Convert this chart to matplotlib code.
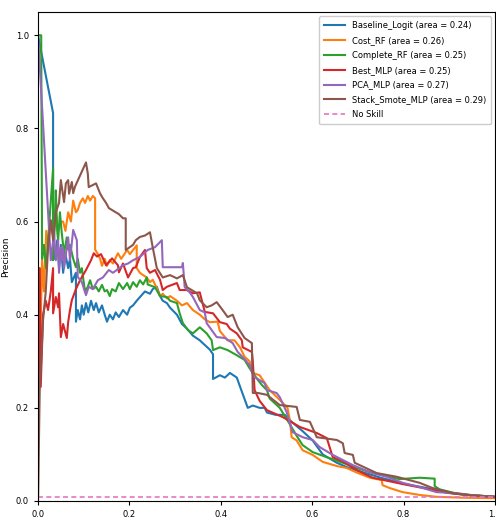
import matplotlib
matplotlib.use("Agg")
import matplotlib.pyplot as plt

labels = ["Baseline_Logit", "Cost_RF", "Complete_RF", "Best_MLP", "PCA_MLP", "Stack_Smote_MLP"]
areas = [0.24, 0.26, 0.25, 0.25, 0.27, 0.29]
colors = ["#1f77b4", "#ff7f0e", "#2ca02c", "#d62728", "#9467bd", "#8c564b"]
no_skill = 0.008

logit_pts = [(0,1.0),(0.033,0.833),(0.033,0.56),(0.037,0.52),(0.042,0.56),(0.046,0.50),(0.050,0.55),(0.055,0.49),
    (0.060,0.53),(0.066,0.50),(0.070,0.52),(0.074,0.47),(0.083,0.49),(0.083,0.385),(0.087,0.41),(0.092,0.39),
    (0.096,0.42),(0.100,0.40),(0.105,0.425),(0.110,0.405),(0.116,0.43),(0.122,0.41),(0.127,0.425),(0.133,0.405),
    (0.140,0.42),(0.146,0.40),(0.151,0.385),(0.157,0.40),(0.164,0.39),(0.170,0.405),(0.177,0.395),(0.186,0.41),
    (0.195,0.40),(0.201,0.415),(0.208,0.42),(0.216,0.43),(0.225,0.44),(0.234,0.45),(0.245,0.445),(0.251,0.455),
    (0.260,0.46),(0.267,0.44),(0.273,0.43),(0.282,0.425),(0.289,0.415),(0.304,0.40),(0.315,0.38),(0.326,0.37),
    (0.339,0.355),(0.354,0.345),(0.365,0.335),(0.376,0.325),(0.383,0.315),(0.383,0.262),(0.398,0.27),(0.409,0.265),
    (0.420,0.275),(0.435,0.265),(0.446,0.235),(0.459,0.20),(0.470,0.205),(0.485,0.20),(0.496,0.20),(0.501,0.19),
    (0.520,0.185),(0.540,0.185),(0.555,0.17),(0.579,0.15),(0.601,0.13),(0.623,0.10),(0.654,0.082),(0.675,0.073),
    (0.710,0.062),(0.750,0.05),(0.800,0.037),(0.850,0.028),(0.880,0.02),(0.920,0.015),(0.950,0.012),(1.0,0.009)]

cost_rf_pts = [(0.004,0.30),(0.009,0.52),(0.013,0.45),(0.018,0.58),(0.022,0.55),(0.028,0.60),(0.033,0.57),(0.039,0.62),
    (0.044,0.58),(0.050,0.60),(0.055,0.60),(0.060,0.58),(0.066,0.62),(0.072,0.60),(0.077,0.645),(0.083,0.62),
    (0.087,0.625),(0.092,0.64),(0.098,0.65),(0.103,0.64),(0.109,0.655),(0.114,0.645),(0.120,0.655),(0.125,0.65),
    (0.125,0.54),(0.131,0.53),(0.136,0.52),(0.140,0.505),(0.146,0.52),(0.151,0.505),(0.157,0.517),(0.164,0.51),
    (0.175,0.532),(0.182,0.52),(0.195,0.539),(0.201,0.53),(0.216,0.549),(0.216,0.50),(0.223,0.49),(0.230,0.485),
    (0.238,0.48),(0.245,0.47),(0.251,0.475),(0.260,0.457),(0.267,0.44),(0.273,0.445),(0.282,0.435),(0.289,0.44),
    (0.304,0.43),(0.315,0.42),(0.326,0.425),(0.339,0.41),(0.354,0.40),(0.365,0.39),(0.376,0.384),(0.393,0.385),
    (0.398,0.365),(0.415,0.345),(0.430,0.345),(0.442,0.33),(0.452,0.31),(0.463,0.30),(0.470,0.275),(0.485,0.27),
    (0.507,0.238),(0.529,0.217),(0.546,0.20),(0.551,0.174),(0.555,0.137),(0.566,0.13),(0.579,0.109),(0.601,0.099),
    (0.623,0.084),(0.654,0.075),(0.675,0.071),(0.700,0.06),(0.726,0.05),(0.752,0.045),(0.754,0.034),(0.769,0.028),
    (0.798,0.019),(0.835,0.013),(0.872,0.009),(0.93,0.007),(1.0,0.006)]

complete_rf_pts = [(0,1.0),(0.007,1.0),(0.009,0.52),(0.013,0.55),(0.018,0.50),(0.033,0.715),(0.033,0.517),(0.037,0.60),
    (0.039,0.667),(0.042,0.58),(0.044,0.56),(0.048,0.62),(0.052,0.575),(0.057,0.532),(0.063,0.566),(0.066,0.54),
    (0.070,0.55),(0.077,0.52),(0.083,0.502),(0.087,0.52),(0.092,0.49),(0.096,0.50),(0.100,0.47),(0.103,0.45),
    (0.109,0.46),(0.114,0.474),(0.120,0.455),(0.127,0.46),(0.133,0.45),(0.140,0.464),(0.146,0.45),(0.151,0.453),
    (0.157,0.44),(0.162,0.455),(0.170,0.45),(0.177,0.468),(0.186,0.455),(0.195,0.468),(0.201,0.455),(0.208,0.47),
    (0.216,0.46),(0.223,0.474),(0.230,0.465),(0.238,0.48),(0.240,0.465),(0.256,0.459),(0.267,0.44),(0.282,0.438),
    (0.289,0.43),(0.304,0.425),(0.310,0.403),(0.317,0.382),(0.328,0.367),(0.339,0.36),(0.354,0.373),(0.369,0.36),
    (0.380,0.345),(0.383,0.324),(0.398,0.33),(0.415,0.324),(0.435,0.313),(0.452,0.303),(0.463,0.285),(0.481,0.26),
    (0.490,0.249),(0.501,0.238),(0.507,0.22),(0.529,0.20),(0.551,0.165),(0.566,0.14),(0.579,0.12),(0.601,0.105),
    (0.632,0.094),(0.667,0.082),(0.700,0.07),(0.732,0.06),(0.791,0.047),(0.835,0.05),(0.868,0.048),(0.868,0.032),
    (0.879,0.025),(0.92,0.015),(0.96,0.012),(1.0,0.009)]

best_mlp_pts = [(0.0,0.0),(0.002,0.5),(0.004,0.5),(0.006,0.245),(0.011,0.40),(0.017,0.43),(0.022,0.41),(0.028,0.45),
    (0.033,0.50),(0.033,0.403),(0.039,0.438),(0.044,0.416),(0.046,0.446),(0.050,0.352),(0.055,0.38),(0.063,0.35),
    (0.066,0.384),(0.070,0.41),(0.074,0.431),(0.083,0.455),(0.092,0.474),(0.105,0.496),(0.116,0.517),(0.122,0.532),
    (0.129,0.525),(0.138,0.53),(0.149,0.506),(0.162,0.521),(0.175,0.506),(0.177,0.491),(0.186,0.51),(0.197,0.48),
    (0.208,0.50),(0.214,0.502),(0.223,0.524),(0.234,0.539),(0.238,0.50),(0.245,0.49),(0.256,0.496),(0.267,0.475),
    (0.273,0.453),(0.282,0.46),(0.304,0.468),(0.310,0.453),(0.326,0.453),(0.339,0.446),(0.354,0.448),(0.365,0.406),
    (0.383,0.403),(0.398,0.384),(0.413,0.38),(0.420,0.37),(0.435,0.36),(0.446,0.345),(0.448,0.33),(0.468,0.32),
    (0.470,0.30),(0.474,0.238),(0.485,0.215),(0.501,0.195),(0.536,0.18),(0.573,0.159),(0.610,0.146),(0.632,0.135),
    (0.645,0.094),(0.667,0.085),(0.700,0.065),(0.732,0.05),(0.800,0.036),(0.863,0.024),(0.90,0.017),(0.95,0.012),
    (1.0,0.009)]

pca_mlp_pts = [(0,1.0),(0.028,0.517),(0.035,0.575),(0.039,0.517),(0.044,0.56),(0.046,0.49),(0.050,0.545),(0.052,0.517),
    (0.055,0.543),(0.057,0.50),(0.066,0.566),(0.070,0.517),(0.077,0.582),(0.085,0.56),(0.087,0.481),(0.096,0.47),
    (0.105,0.442),(0.111,0.46),(0.120,0.455),(0.131,0.474),(0.142,0.48),(0.155,0.496),(0.164,0.49),(0.186,0.506),
    (0.197,0.51),(0.208,0.517),(0.223,0.524),(0.240,0.539),(0.256,0.545),(0.271,0.56),(0.273,0.502),(0.315,0.502),
    (0.317,0.511),(0.321,0.459),(0.332,0.448),(0.339,0.438),(0.354,0.41),(0.365,0.405),(0.369,0.382),(0.391,0.352),
    (0.409,0.35),(0.426,0.339),(0.437,0.32),(0.448,0.309),(0.463,0.292),(0.468,0.277),(0.474,0.266),(0.496,0.253),
    (0.501,0.238),(0.522,0.232),(0.529,0.223),(0.544,0.191),(0.557,0.148),(0.579,0.137),(0.601,0.131),(0.616,0.116),
    (0.645,0.099),(0.667,0.088),(0.689,0.077),(0.726,0.062),(0.763,0.052),(0.798,0.039),(0.835,0.03),(0.872,0.019),
    (0.916,0.017),(0.944,0.013),(1.0,0.009)]

stack_pts = [(0.0,0.0),(0.004,0.253),(0.007,0.30),(0.011,0.388),(0.017,0.45),(0.022,0.545),(0.028,0.603),(0.033,0.56),
    (0.039,0.62),(0.046,0.64),(0.050,0.689),(0.057,0.642),(0.061,0.682),(0.066,0.689),(0.068,0.66),(0.074,0.685),
    (0.077,0.661),(0.081,0.675),(0.105,0.727),(0.109,0.703),(0.111,0.674),(0.127,0.682),(0.136,0.66),(0.142,0.65),
    (0.149,0.64),(0.155,0.629),(0.170,0.62),(0.177,0.616),(0.186,0.607),(0.192,0.607),(0.192,0.539),(0.208,0.55),
    (0.214,0.56),(0.223,0.567),(0.234,0.57),(0.245,0.577),(0.251,0.545),(0.256,0.52),(0.260,0.50),(0.273,0.48),
    (0.289,0.485),(0.304,0.478),(0.317,0.485),(0.326,0.459),(0.348,0.446),(0.354,0.431),(0.369,0.416),(0.380,0.42),
    (0.391,0.427),(0.404,0.41),(0.415,0.395),(0.426,0.40),(0.437,0.373),(0.452,0.35),(0.468,0.339),(0.470,0.232),
    (0.481,0.232),(0.501,0.228),(0.529,0.206),(0.566,0.202),(0.573,0.174),(0.595,0.17),(0.610,0.137),(0.654,0.131),
    (0.667,0.124),(0.671,0.103),(0.689,0.099),(0.693,0.082),(0.741,0.06),(0.785,0.052),(0.835,0.039),(0.863,0.028),
    (0.907,0.017),(0.95,0.012),(1.0,0.009)]

series = [logit_pts, cost_rf_pts, complete_rf_pts, best_mlp_pts, pca_mlp_pts, stack_pts]

fig = plt.figure(figsize=(4.96, 5.24), dpi=100)
ax = fig.add_axes([38/496, 23/524, 457/496, 489/524])

for pts, lab, a, c in zip(series, labels, areas, colors):
    r = [p[0] for p in pts]
    pr = [p[1] for p in pts]
    ax.plot(r, pr, color=c, lw=1.5, label=f"{lab} (area = {a:.2f})")

ax.plot([0, 1], [no_skill, no_skill], linestyle=(0, (3, 2)), color="#e377c2", lw=1.2, label="No Skill")

ax.set_xlim(0, 1)
ax.set_ylim(0, 1.05)
ax.set_xticks([0, 0.2, 0.4, 0.6, 0.8, 1.0])
ax.set_yticks([0, 0.2, 0.4, 0.6, 0.8, 1.0])
ax.tick_params(labelsize=6, length=3)
ax.set_xlabel("Recall", fontsize=6.5)
ax.set_ylabel("Precision", fontsize=6.5)
ax.legend(loc="upper right", fontsize=6, handlelength=2.5, borderpad=0.6, labelspacing=0.7, framealpha=1)

fig.savefig("out.png", dpi=100)
